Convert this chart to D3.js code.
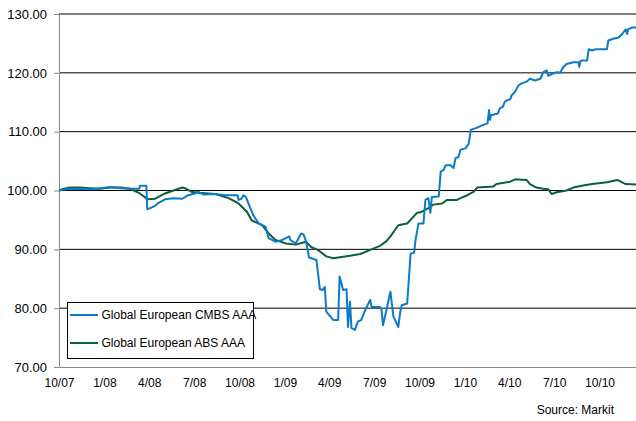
<!DOCTYPE html>
<html>
<head>
<meta charset="utf-8">
<script src="https://cdn.jsdelivr.net/npm/d3@7/dist/d3.min.js"></script>
<style>
  html, body { margin: 0; padding: 0; background: #fff; }
  svg { display: block; font-family: "Liberation Sans", Arial, sans-serif; }
</style>
</head>
<body>
<svg id="chart" width="636" height="421"></svg>
<script>
// ---- data ----
const seriesNames = ["Global European CMBS AAA", "Global European ABS AAA"];
const yTicks = [70, 80, 90, 100, 110, 120, 130];
const xTickLabels = ["10/07","1/08","4/08","7/08","10/08","1/09","4/09","7/09","10/09","1/10","4/10","7/10","10/10"];
const sourceText = "Source: Markit";

const cmbsDates = [
 "2007-10-01","2007-10-15","2007-11-10","2007-12-05","2007-12-25","2008-01-13","2008-02-03","2008-02-25","2008-03-12","2008-03-13",
 "2008-03-26","2008-03-28","2008-04-13","2008-04-20","2008-05-03","2008-05-20","2008-06-07","2008-06-19","2008-07-03","2008-07-09",
 "2008-07-20","2008-08-13","2008-09-03","2008-09-27","2008-09-29","2008-10-05","2008-10-09","2008-10-14","2008-10-19","2008-10-29",
 "2008-11-09","2008-11-23","2008-11-29","2008-12-13","2008-12-27","2009-01-10","2009-01-13","2009-01-23","2009-02-03","2009-02-08",
 "2009-02-13","2009-02-19","2009-03-06","2009-03-13","2009-03-19","2009-03-23","2009-03-26","2009-04-09","2009-04-19","2009-04-22",
 "2009-04-29","2009-05-06","2009-05-09","2009-05-13","2009-05-16","2009-05-23","2009-05-29","2009-06-05","2009-06-13","2009-06-23",
 "2009-06-26","2009-07-13","2009-07-16","2009-07-19","2009-07-26","2009-08-03","2009-08-09","2009-08-19","2009-08-23","2009-08-26",
 "2009-09-06","2009-09-13","2009-09-20","2009-09-23","2009-09-29","2009-10-09","2009-10-13","2009-10-19","2009-10-23","2009-10-26",
 "2009-11-09","2009-11-13","2009-11-19","2009-11-23","2009-12-03","2009-12-09","2009-12-13","2009-12-19","2009-12-23","2010-01-03",
 "2010-01-09","2010-01-13","2010-01-23","2010-01-29","2010-02-06","2010-02-16","2010-02-19","2010-02-21","2010-02-23","2010-03-09",
 "2010-03-13","2010-03-19","2010-03-23","2010-03-29","2010-04-03","2010-04-06","2010-04-13","2010-04-19","2010-04-26","2010-05-06",
 "2010-05-13","2010-05-23","2010-06-03","2010-06-09","2010-06-16","2010-06-19","2010-06-26","2010-07-06","2010-07-13","2010-07-19",
 "2010-07-26","2010-08-09","2010-08-19","2010-08-21","2010-08-23","2010-08-26","2010-09-06","2010-09-09","2010-09-16","2010-09-23",
 "2010-10-16","2010-10-19","2010-10-29","2010-11-09","2010-11-16","2010-11-23","2010-11-26","2010-11-28","2010-12-06","2010-12-16"
];
const cmbsValues = [
 100.0,100.2,100.3,100.2,100.4,100.6,100.4,100.3,100.3,100.8,
 100.8,96.8,97.4,97.9,98.5,98.7,98.6,99.2,99.5,99.8,
 99.3,99.4,99.2,99.2,98.4,98.6,99.2,98.9,97.8,95.8,
 94.4,93.8,91.9,91.3,91.6,92.2,91.5,91.0,92.7,92.5,
 91.3,88.6,88.2,83.2,83.1,83.6,79.4,78.0,78.0,85.4,
 83.1,83.2,76.8,81.1,76.6,76.3,77.7,78.0,79.7,81.4,
 80.2,80.2,79.8,77.1,79.7,82.8,78.6,76.8,79.4,80.5,
 80.8,89.3,89.4,91.6,94.4,94.4,98.4,98.7,96.2,98.9,
 99.0,103.2,103.5,104.3,104.3,103.8,105.5,105.7,106.9,107.2,
 108.0,110.3,110.6,110.8,111.1,111.4,113.7,112.0,112.8,113.1,
 114.0,114.2,115.1,115.4,115.5,116.2,116.8,117.8,118.2,118.5,
 119.0,118.7,119.0,120.1,120.4,119.5,119.8,120.1,120.0,120.9,
 121.5,121.8,121.8,121.0,122.0,122.1,122.1,124.0,123.8,124.0,
 124.0,125.5,125.8,126.0,126.6,127.4,126.6,127.4,127.7,127.7
];

const absDates = [
 "2007-10-01","2007-10-07","2007-10-23","2007-11-13","2007-12-03","2007-12-23","2008-01-13","2008-02-03","2008-02-22","2008-03-13",
 "2008-03-29","2008-04-13","2008-05-03","2008-05-20","2008-06-07","2008-06-15","2008-06-25","2008-07-09","2008-08-13","2008-09-09",
 "2008-09-29","2008-10-16","2008-10-26","2008-11-16","2008-11-29","2008-12-13","2009-01-03","2009-01-23","2009-02-13","2009-02-23",
 "2009-03-09","2009-03-26","2009-04-09","2009-05-13","2009-06-03","2009-06-23","2009-07-13","2009-07-26","2009-08-03","2009-08-19",
 "2009-09-06","2009-09-26","2009-10-03","2009-10-19","2009-10-29","2009-11-16","2009-11-26","2009-12-16","2009-12-23","2010-01-06",
 "2010-01-19","2010-01-26","2010-02-28","2010-03-06","2010-04-03","2010-04-13","2010-05-06","2010-05-13","2010-05-26","2010-06-09",
 "2010-06-19","2010-06-26","2010-07-06","2010-07-26","2010-08-09","2010-08-26","2010-09-16","2010-10-16","2010-11-06","2010-11-23",
 "2010-12-16"
];
const absValues = [
 100.0,100.2,100.5,100.5,100.4,100.3,100.5,100.5,100.3,99.5,
 98.5,98.6,99.5,100.0,100.5,100.3,99.8,99.6,99.4,98.7,
 97.8,96.4,94.9,94.1,92.7,91.6,91.0,90.8,91.3,90.4,
 89.9,88.8,88.5,88.9,89.2,89.9,90.6,91.4,92.2,94.1,
 94.4,96.2,96.3,97.0,97.6,97.8,98.4,98.4,98.7,99.2,
 99.8,100.5,100.7,101.1,101.5,101.9,101.8,101.1,100.5,100.3,
 100.2,99.4,99.7,100.0,100.5,100.8,101.1,101.4,101.8,101.1,
 101.0
];

// ---- layout ----
const W = 636, H = 421;
const M = { left: 59, top: 14, right: 637, bottom: 367 };
const parse = d3.timeParse("%Y-%m-%d");
const colors = ["#0a7bc9", "#0d5f38"];

const svg = d3.select("#chart");

const x = d3.scaleTime()
  .domain([parse("2007-10-01"), parse("2010-12-16")])
  .range([M.left, M.right]);
const y = d3.scaleLinear().domain([70, 130]).range([M.bottom, M.top]);

// gridlines
svg.append("g").selectAll("line")
  .data(yTicks.filter(v => v > 70))
  .join("line")
  .attr("x1", M.left).attr("x2", W)
  .attr("y1", d => y(d)).attr("y2", d => y(d))
  .attr("stroke", "#000").attr("stroke-width", 1);

// y axis
const yAxis = d3.axisLeft(y).tickValues(yTicks).tickSize(5).tickSizeOuter(0).tickFormat(d3.format(".2f"));
const gy = svg.append("g").attr("transform", `translate(${M.left},0)`).call(yAxis);
gy.select(".domain").attr("stroke", "#888");
gy.selectAll(".tick line").attr("stroke", "#888");
gy.selectAll(".tick text").attr("x", -12).attr("font-size", 13).attr("fill", "#000")
  .attr("font-family", "Liberation Sans, Arial, sans-serif");

// x axis
const qTicks = xTickLabels.map((_, i) => d3.timeMonth.offset(parse("2007-10-01"), i * 3));
const xAxis = d3.axisBottom(x).tickValues(qTicks).tickSize(0).tickSizeOuter(0)
  .tickFormat((d, i) => xTickLabels[i]);
const gx = svg.append("g").attr("transform", `translate(0,${M.bottom})`).call(xAxis);
gx.select(".domain").attr("stroke", "#888");
gx.selectAll(".tick text").attr("dy", "1.2em").attr("y", 6).attr("font-size", 12).attr("fill", "#000")
  .attr("font-family", "Liberation Sans, Arial, sans-serif");

// lines
const line = d3.line().x(d => x(d.date)).y(d => y(d.value));
const series = [
  cmbsDates.map((d, i) => ({ date: parse(d), value: cmbsValues[i] })),
  absDates.map((d, i) => ({ date: parse(d), value: absValues[i] }))
];
svg.append("defs").append("clipPath").attr("id", "clip")
  .append("rect").attr("x", M.left).attr("y", 0).attr("width", W - M.left).attr("height", M.bottom);
const gl = svg.append("g").attr("clip-path", "url(#clip)");
// draw ABS first then CMBS? CMBS looks on top at start; ABS on top elsewhere
[1, 0].forEach(k => {
  gl.append("path").datum(series[k])
    .attr("fill", "none").attr("stroke", colors[k]).attr("stroke-width", 2)
    .attr("stroke-linejoin", "round").attr("d", line);
});

// legend
const lg = svg.append("g");
lg.append("rect").attr("x", 67.5).attr("y", 302.5).attr("width", 186).attr("height", 56)
  .attr("fill", "#fff").attr("stroke", "#000").attr("stroke-width", 1);
seriesNames.forEach((name, i) => {
  const yy = 315 + i * 28;
  lg.append("line").attr("x1", 70).attr("x2", 98).attr("y1", yy).attr("y2", yy)
    .attr("stroke", colors[i]).attr("stroke-width", 2);
  lg.append("text").attr("x", 101.5).attr("y", yy).attr("dy", "0.35em")
    .attr("font-size", 12).attr("fill", "#000").text(name);
});

// source
svg.append("text").attr("x", 614).attr("y", 414).attr("text-anchor", "end")
  .attr("font-size", 12).attr("fill", "#000").text(sourceText);
</script>
</body>
</html>
